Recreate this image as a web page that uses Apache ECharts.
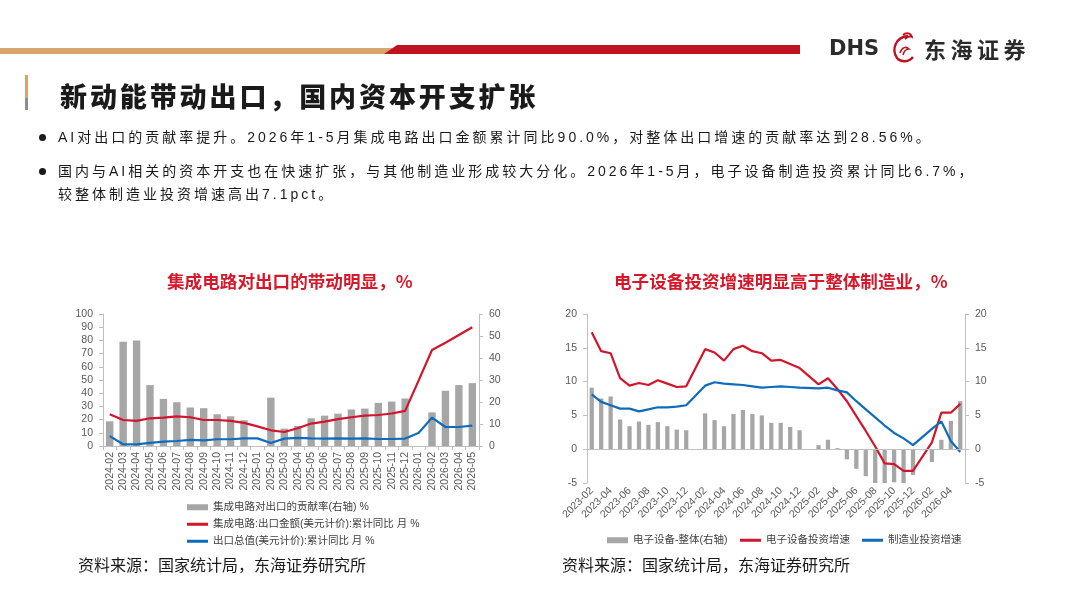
<!DOCTYPE html>
<html>
<head>
<meta charset="utf-8">
<script src="https://cdn.jsdelivr.net/npm/echarts@6/dist/echarts.min.js"></script>
<style>
  body { margin:0; width:1067px; height:600px; position:relative; background:#fff; overflow:hidden; }
  #main { position:absolute; left:0; top:0; width:1067px; height:600px; }
  .abs { position:absolute; }
  .gold { left:0; top:48px; width:392px; height:6px; background:#d6a46c; }
  .red { left:384px; top:45px; width:416px; height:9px; background:#c1121f; clip-path:polygon(13px 0,100% 0,100% 100%,0 100%); }
  .logo-en { left:829px; top:34px; font:bold 21px "DejaVu Sans", sans-serif; color:#2b2b2b; line-height:28px; }
  .logo-cn { left:924px; top:33px; font:bold 22px "Noto Sans CJK SC", sans-serif; color:#2b2b2b; letter-spacing:4.5px; line-height:30px; }
  .tbar1 { left:25px; top:75px; width:3px; height:23px; background:#d6a46c; }
  .tbar2 { left:25px; top:98px; width:3px; height:12px; background:#8c8c8c; }
  .title { left:60px; top:80px; font:900 27px "Noto Sans CJK SC", sans-serif; color:#1a1a1a; letter-spacing:2.9px; line-height:32px; white-space:nowrap; }
  .para { left:58px; font:14px "Liberation Sans", "Noto Sans CJK SC", sans-serif; color:#1a1a1a; letter-spacing:3px; white-space:nowrap; }
  .dot { left:39px; width:7px; height:7px; border-radius:50%; background:#1a1a1a; }
</style>
</head>
<body>
<div id="main"></div>
<div class="abs gold"></div>
<div class="abs red"></div>
<div class="abs logo-en">DHS</div>
<svg class="abs" style="left:886px;top:31px" width="34" height="34" viewBox="0 0 34 34">
  <path d="M22 5 C10 6 5 18 11 27 C15 32 23 31 27 26" stroke="#c1121f" stroke-width="2.4" fill="none"/>
  <path d="M17 4 C20 1 25 2 26 6 C24 5 21 6 19 8" stroke="#c1121f" stroke-width="1.8" fill="none"/>
  <path d="M14 22 C16 16 20 15 23 18 C20 18 18 20 17 24" stroke="#c1121f" stroke-width="1.6" fill="none"/>
</svg>
<div class="abs logo-cn">东海证券</div>
<div class="abs tbar1"></div>
<div class="abs tbar2"></div>
<div class="abs title">新动能带动出口，国内资本开支扩张</div>
<div class="abs dot" style="top:134px"></div>
<div class="abs para" style="top:127px;line-height:20px">AI对出口的贡献率提升。2026年1-5月集成电路出口金额累计同比90.0%，对整体出口增速的贡献率达到28.56%。</div>
<div class="abs dot" style="top:168px"></div>
<div class="abs para" style="top:159.5px;line-height:23px">国内与AI相关的资本开支也在快速扩张，与其他制造业形成较大分化。2026年1-5月，电子设备制造投资累计同比6.7%，<br>较整体制造业投资增速高出7.1pct。</div>
<script>
// 左图：集成电路对出口
var leftCats = ['2024-02','2024-03','2024-04','2024-05','2024-06','2024-07','2024-08','2024-09','2024-10','2024-11','2024-12',
  '2025-01','2025-02','2025-03','2025-04','2025-05','2025-06','2025-07','2025-08','2025-09','2025-10','2025-11','2025-12',
  '2026-01','2026-02','2026-03','2026-04','2026-05'];
var icShare = [11.2, 47.4, 47.9, 27.7, 21.4, 19.9, 17.5, 17.2, 14.4, 13.5, 11.7,
  null, 22.0, 7.9, 9.1, 12.6, 13.8, 14.7, 16.6, 17.0, 19.6, 20.2, 21.6,
  null, 15.3, 25.1, 27.7, 28.56];
var icExport = [24.1, 19.7, 19.0, 21.0, 21.5, 22.5, 21.8, 19.7, 19.7, 19.0, 17.5,
  14.9, 11.9, 10.6, 13.4, 17.0, 18.5, 20.3, 21.8, 23.0, 23.5, 24.6, 26.6,
  49.5, 72.7, 78.2, 84.1, 90.0];
var totalExport = [7.5, 1.3, 1.3, 2.3, 3.3, 3.8, 4.6, 4.3, 5.1, 5.1, 5.8,
  5.8, 2.3, 5.6, 6.1, 5.8, 5.6, 5.8, 5.6, 5.8, 5.3, 5.3, 5.6,
  9.9, 21.5, 14.4, 14.4, 15.4];

// 右图：电子设备投资 vs 制造业投资
var rightCats = ['2023-02','2023-03','2023-04','2023-05','2023-06','2023-07','2023-08','2023-09','2023-10','2023-11','2023-12',
  '2024-01','2024-02','2024-03','2024-04','2024-05','2024-06','2024-07','2024-08','2024-09','2024-10','2024-11','2024-12',
  '2025-01','2025-02','2025-03','2025-04','2025-05','2025-06','2025-07','2025-08','2025-09','2025-10','2025-11','2025-12',
  '2026-01','2026-02','2026-03','2026-04','2026-05'];
var elecGap = [9.1, 7.5, 7.8, 4.4, 3.4, 4.1, 3.6, 4.0, 3.4, 2.9, 2.8,
  null, 5.3, 4.3, 3.4, 5.2, 5.8, 5.2, 5.0, 3.9, 3.9, 3.3, 2.8,
  null, 0.6, 1.4, 0.15, -1.5, -2.9, -4.0, -5.1, -5.1, -4.9, -5.0, -3.8,
  null, -1.9, 1.4, 4.2, 7.1];
var elecInv = [17.3, 14.5, 14.2, 10.5, 9.4, 9.8, 9.5, 10.2, 9.7, 9.2, 9.3,
  null, 14.8, 14.3, 13.1, 14.8, 15.3, 14.5, 14.2, 13.1, 13.2, 12.6, 12.0,
  null, 9.6, 10.5, 8.9, 7.1, 4.9, 2.7, 0.4, -2.1, -2.2, -3.2, -3.2,
  null, 1.0, 5.4, 5.4, 6.7];
var mfgInv = [8.1, 7.0, 6.5, 6.0, 6.0, 5.6, 5.9, 6.2, 6.2, 6.3, 6.5,
  null, 9.4, 9.9, 9.7, 9.6, 9.5, 9.3, 9.1, 9.2, 9.3, 9.2, 9.1,
  null, 9.0, 9.1, 8.7, 8.4, 7.1, 5.9, 4.7, 3.5, 2.4, 1.6, 0.6,
  null, 3.0, 4.1, 1.2, -0.4];

var leftTicks = [0, 100, 10], leftRTicks = [0, 60, 10], rightTicks = [-5, 20, 5];

var FONT = '"Liberation Sans", "Noto Sans CJK SC", sans-serif';
var CJK = '"Noto Sans CJK SC", sans-serif';
var GREY = '#a6a6a6', RED = '#d2152b', BLUE = '#0f6cbd';
var AXIS = '#bfbfbf', LABEL = '#595959';

function yAx(grid, t, pos) {
  return {
    type: 'value', gridIndex: grid, position: pos, min: t[0], max: t[1], interval: t[2],
    axisLine: { show: true, lineStyle: { color: AXIS } },
    axisTick: { show: true, length: 4, lineStyle: { color: AXIS } },
    splitLine: { show: false },
    axisLabel: { color: LABEL, fontSize: 10.5, margin: 10 }
  };
}

function leg(name, left, top, h) {
  return {
    data: [name], left: left, top: top, icon: 'rect', itemWidth: 21, itemHeight: h,
    selectedMode: false, textStyle: { color: '#404040', fontSize: 10.5, fontFamily: FONT }
  };
}

var chartDom = document.getElementById('main');
var myChart = echarts.init(chartDom);
var option = {
  animation: false,
  textStyle: { fontFamily: FONT },
  grid: [
    { left: 103, right: 588, top: 314, bottom: 154 },
    { left: 587, right: 102, top: 314, bottom: 117 }
  ],
  xAxis: [
    {
      type: 'category', gridIndex: 0, data: leftCats,
      axisLine: { lineStyle: { color: AXIS } },
      axisTick: { show: true, interval: 0, length: 4, lineStyle: { color: AXIS } },
      axisLabel: { rotate: 90, interval: 0, color: LABEL, fontSize: 10.5, margin: 6 }
    },
    {
      type: 'category', gridIndex: 1, data: rightCats,
      axisLine: { show: false },
      axisTick: { show: false },
      axisLabel: { rotate: 45, interval: 1, color: LABEL, fontSize: 10.5, margin: 6 }
    }
  ],
  yAxis: [
    yAx(0, leftTicks, 'left'),
    yAx(0, leftRTicks, 'right'),
    yAx(1, rightTicks, 'left'),
    yAx(1, rightTicks, 'right')
  ],
  legend: [
    leg('集成电路对出口的贡献率(右轴) %', 182, 497, 6),
    leg('集成电路:出口金额(美元计价):累计同比 月 %', 182, 514, 3),
    leg('出口总值(美元计价):累计同比 月 %', 182, 531, 3),
    leg('电子设备-整体(右轴)', 602, 530, 6),
    leg('电子设备投资增速', 735, 530, 3),
    leg('制造业投资增速', 857, 530, 3)
  ],
  series: [
    {
      name: '集成电路对出口的贡献率(右轴) %', type: 'bar', xAxisIndex: 0, yAxisIndex: 1,
      data: icShare, barWidth: '55%', itemStyle: { color: GREY }
    },
    {
      name: '集成电路:出口金额(美元计价):累计同比 月 %', type: 'line', xAxisIndex: 0, yAxisIndex: 0,
      data: icExport, symbol: 'none', lineStyle: { color: RED, width: 2.2 }, itemStyle: { color: RED }
    },
    {
      name: '出口总值(美元计价):累计同比 月 %', type: 'line', xAxisIndex: 0, yAxisIndex: 0,
      data: totalExport, symbol: 'none', lineStyle: { color: BLUE, width: 2.2 }, itemStyle: { color: BLUE }
    },
    {
      name: '电子设备-整体(右轴)', type: 'bar', xAxisIndex: 1, yAxisIndex: 3,
      data: elecGap, barWidth: '45%', itemStyle: { color: GREY },
      markLine: {
        silent: true, symbol: ['none', 'none'], label: { show: false },
        lineStyle: { color: AXIS, type: 'solid', width: 1 },
        data: [{ yAxis: 0 }]
      }
    },
    {
      name: '电子设备投资增速', type: 'line', xAxisIndex: 1, yAxisIndex: 2, connectNulls: true,
      data: elecInv, symbol: 'none', lineStyle: { color: RED, width: 2.2 }, itemStyle: { color: RED }
    },
    {
      name: '制造业投资增速', type: 'line', xAxisIndex: 1, yAxisIndex: 2, connectNulls: true,
      data: mfgInv, symbol: 'none', lineStyle: { color: BLUE, width: 2.2 }, itemStyle: { color: BLUE }
    }
  ],
  graphic: [
    { type: 'text', left: 167, top: 273, style: { text: '集成电路对出口的带动明显，%', fill: '#d7182a', font: 'bold 17.6px ' + CJK } },
    { type: 'text', left: 614, top: 273, style: { text: '电子设备投资增速明显高于整体制造业，%', fill: '#d7182a', font: 'bold 17.6px ' + CJK } },
    { type: 'text', left: 78, top: 557, style: { text: '资料来源：国家统计局，东海证券研究所', fill: '#1a1a1a', font: '16px ' + CJK } },
    { type: 'text', left: 562, top: 557, style: { text: '资料来源：国家统计局，东海证券研究所', fill: '#1a1a1a', font: '16px ' + CJK } }
  ]
};
option && myChart.setOption(option);
</script>
</body>
</html>
